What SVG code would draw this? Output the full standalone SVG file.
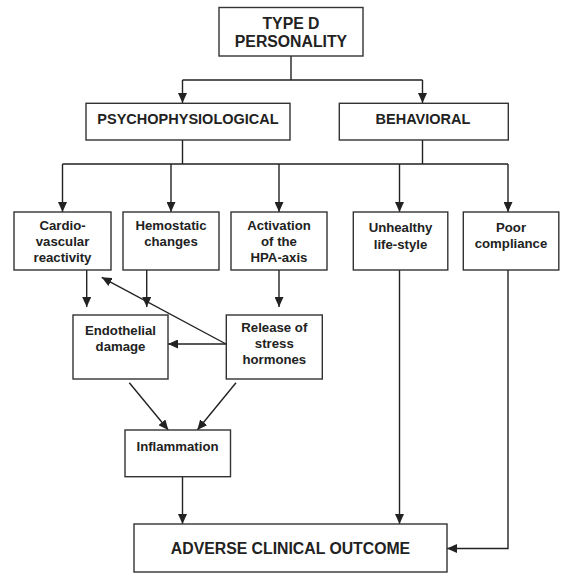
<svg xmlns="http://www.w3.org/2000/svg" width="561" height="573" viewBox="0 0 561 573">
<style>
  .box { fill: #fff; stroke: #333; stroke-width: 1.4; }
  .t { font-family: "Liberation Sans", Arial, sans-serif; font-weight: bold; fill: #222; text-anchor: middle; }
  .s { font-size: 13.2px; }
  .m { font-size: 14.5px; }
  .l { font-size: 15.8px; }
  .c { fill: none; stroke: #222; stroke-width: 1.4; }
</style>
<defs>
  <marker id="ah" markerUnits="userSpaceOnUse" markerWidth="10" markerHeight="9" refX="10" refY="4.5" orient="auto">
    <path d="M0,0 L10,4.5 L0,9 z" fill="#222"/>
  </marker>
</defs>
<rect width="561" height="573" fill="#fff"/>

<g id="connectors">
  <path class="c" d="M291,56 V80 M182.5,80 H422.5"/>
  <path class="c" d="M182.5,80 V103" marker-end="url(#ah)"/>
  <path class="c" d="M422.5,80 V103" marker-end="url(#ah)"/>
  <path class="c" d="M182.5,140 V164 M422.5,140 V164 M62.5,164 H508"/>
  <path class="c" d="M62.5,164 V212" marker-end="url(#ah)"/>
  <path class="c" d="M171,164 V212" marker-end="url(#ah)"/>
  <path class="c" d="M279,164 V212" marker-end="url(#ah)"/>
  <path class="c" d="M399.5,164 V212" marker-end="url(#ah)"/>
  <path class="c" d="M508,164 V212" marker-end="url(#ah)"/>
  <path class="c" d="M86.7,270 V307" marker-end="url(#ah)"/>
  <path class="c" d="M146.7,270 V307" marker-end="url(#ah)"/>
  <path class="c" d="M279,270 V307" marker-end="url(#ah)"/>
  <path class="c" d="M226,344 H168" marker-end="url(#ah)"/>
  <path class="c" d="M226,344 L101.7,277.3" marker-end="url(#ah)"/>
  <path class="c" d="M129.3,382.7 L168.3,430" marker-end="url(#ah)"/>
  <path class="c" d="M236,382.7 L197.3,430" marker-end="url(#ah)"/>
  <path class="c" d="M182.5,476.7 V524" marker-end="url(#ah)"/>
  <path class="c" d="M399.5,270 V524" marker-end="url(#ah)"/>
  <path class="c" d="M508,270 V548.5 H447" marker-end="url(#ah)"/>
</g>

<g id="type-d">
  <rect class="box" x="219" y="7.5" width="144" height="48.5"/>
  <text class="t l" x="291" y="28.5">TYPE D</text>
  <text class="t l" x="291" y="46.5">PERSONALITY</text>
</g>
<g id="psychophysiological">
  <rect class="box" x="86" y="103.3" width="204" height="36.7"/>
  <text class="t m" x="188" y="124.3">PSYCHOPHYSIOLOGICAL</text>
</g>
<g id="behavioral">
  <rect class="box" x="339.3" y="103.3" width="169" height="36.7"/>
  <text class="t m" x="423" y="124.3">BEHAVIORAL</text>
</g>
<g id="cardiovascular">
  <rect class="box" x="14" y="212" width="97" height="58"/>
  <text class="t s" x="62.5" y="229.5">Cardio-</text>
  <text class="t s" x="62.5" y="245.5">vascular</text>
  <text class="t s" x="62.5" y="261.5">reactivity</text>
</g>
<g id="hemostatic">
  <rect class="box" x="123" y="212" width="96" height="58"/>
  <text class="t s" x="171" y="229.5">Hemostatic</text>
  <text class="t s" x="171" y="245.5">changes</text>
</g>
<g id="hpa">
  <rect class="box" x="231" y="212" width="96" height="58"/>
  <text class="t s" x="279" y="229.5">Activation</text>
  <text class="t s" x="279" y="245.5">of the</text>
  <text class="t s" x="279" y="261.5">HPA-axis</text>
</g>
<g id="unhealthy">
  <rect class="box" x="353.3" y="212" width="94.5" height="58"/>
  <text class="t s" x="400.5" y="232">Unhealthy</text>
  <text class="t s" x="400.5" y="249">life-style</text>
</g>
<g id="poor-compliance">
  <rect class="box" x="463.3" y="212" width="95.5" height="58"/>
  <text class="t s" x="511" y="232">Poor</text>
  <text class="t s" x="511" y="248">compliance</text>
</g>
<g id="endothelial">
  <rect class="box" x="73" y="315" width="95" height="64"/>
  <text class="t s" x="120.5" y="335">Endothelial</text>
  <text class="t s" x="120.5" y="350.5">damage</text>
</g>
<g id="release">
  <rect class="box" x="226.3" y="315" width="96" height="64"/>
  <text class="t s" x="274.3" y="332">Release of</text>
  <text class="t s" x="274.3" y="348">stress</text>
  <text class="t s" x="274.3" y="364">hormones</text>
</g>
<g id="inflammation">
  <rect class="box" x="125" y="430" width="105.5" height="46.7"/>
  <text class="t s" x="177.5" y="451">Inflammation</text>
</g>
<g id="adverse">
  <rect class="box" x="134" y="524" width="313" height="48"/>
  <text class="t l" x="290.5" y="553.5">ADVERSE CLINICAL OUTCOME</text>
</g>
</svg>
